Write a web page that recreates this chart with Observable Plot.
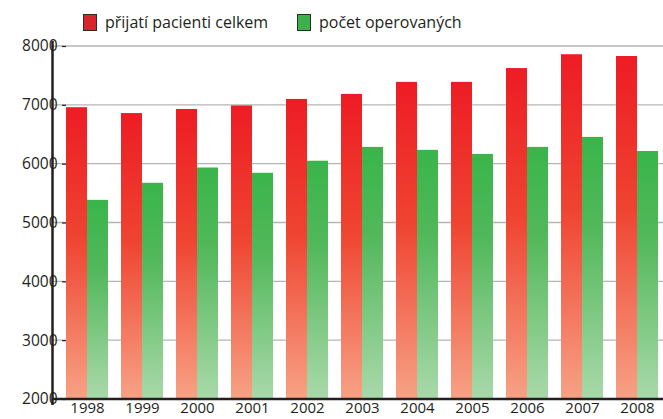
<!DOCTYPE html>
<html><head><meta charset="utf-8">
<script src="https://cdn.jsdelivr.net/npm/d3@7"></script>
<script src="https://cdn.jsdelivr.net/npm/@observablehq/plot@0.6"></script>
<style>
body{margin:0;background:#fff;}
#wrap{position:relative;width:663px;height:419px;font-family:"Open Sans",sans-serif;color:#231f20;overflow:hidden;}
.item{position:absolute;top:0;height:44px;display:flex;align-items:center;font-size:16px;white-space:nowrap;}
.sw{width:12px;height:15px;border:1.5px solid #2b2b2b;margin-right:8px;box-sizing:content-box;}
</style></head>
<body>
<svg width="0" height="0" style="position:absolute"><defs>
<linearGradient id="gr" x1="0" y1="0" x2="0" y2="1"><stop offset="0" stop-color="#ed1c24"/><stop offset="0.45" stop-color="#ef4431"/><stop offset="1" stop-color="#f7a285"/></linearGradient>
<linearGradient id="gg" x1="0" y1="0" x2="0" y2="1"><stop offset="0" stop-color="#39b54a"/><stop offset="0.35" stop-color="#52b85a"/><stop offset="1" stop-color="#a9d9aa"/></linearGradient>
</defs></svg>
<div id="wrap">
  <div id="chart"></div>
  <div class="item" style="left:83px"><div class="sw" style="background:#da242b"></div><span id="l0"></span></div>
  <div class="item" style="left:297px"><div class="sw" style="background:#3cb04a"></div><span id="l1"></span></div>
</div>
<script>
const years = ["1998","1999","2000","2001","2002","2003","2004","2005","2006","2007","2008"];
const admitted = [6960, 6860, 6930, 6990, 7100, 7185, 7390, 7390, 7625, 7860, 7830];
const operated = [5385, 5675, 5935, 5845, 6050, 6285, 6235, 6165, 6285, 6455, 6215];
const seriesNames = ["přijatí pacienti celkem", "počet operovaných"];
const yTicks = [2000, 3000, 4000, 5000, 6000, 7000, 8000];

document.getElementById("l0").textContent = seriesNames[0];
document.getElementById("l1").textContent = seriesNames[1];

const data = years.flatMap((yr, i) => [
  {year: yr, series: seriesNames[0], value: admitted[i]},
  {year: yr, series: seriesNames[1], value: operated[i]}
]);
const base = yTicks[0];

const chart = Plot.plot({
  width: 663, height: 419,
  marginTop: 46, marginBottom: 20, marginLeft: 53, marginRight: 0,
  style: {fontFamily: '"Open Sans", sans-serif', fontSize: "15px", color: "#231f20", background: "transparent"},
  fx: {domain: years, paddingInner: 0.24, paddingOuter: 0.127, align: 0.71, label: null},
  x: {domain: seriesNames, padding: 0, axis: null},
  y: {domain: [base, yTicks[yTicks.length - 1]], axis: null},
  color: {domain: seriesNames, range: ["url(#gr)", "url(#gg)"]},
  marks: [
    Plot.barY(data, {fx: "year", x: "series", y1: base, y2: "value", fill: "series", inset: 0}),
    Plot.axisFx({anchor: "bottom", tickSize: 0, tickPadding: 3, label: null, fontSize: 15}),
    Plot.axisY({ticks: yTicks, tickSize: 4, tickPadding: 5, label: null, tickFormat: d => String(d), fontSize: 15.5, strokeWidth: 1.2})
  ]
});
document.getElementById("chart").appendChild(chart);

// gridlines and axis lines drawn from the plot's own y scale
const y = chart.scale("y");
const svg = d3.select(chart);
const W = 663, L = 53;
const g = svg.insert("g", ":first-child");
g.selectAll("line").data(yTicks.slice(1)).join("line")
  .attr("x1", L).attr("x2", W)
  .attr("y1", d => y.apply(d)).attr("y2", d => y.apply(d))
  .attr("stroke", "#b5b5b5").attr("stroke-width", 1.3);
svg.append("line").attr("x1", L - 0.5).attr("x2", L - 0.5)
  .attr("y1", y.apply(yTicks[yTicks.length - 1]) - 5).attr("y2", y.apply(base) + 6)
  .attr("stroke", "#231f20").attr("stroke-width", 2.5);
svg.append("line").attr("x1", L - 0.5).attr("x2", W)
  .attr("y1", y.apply(base)).attr("y2", y.apply(base))
  .attr("stroke", "#231f20").attr("stroke-width", 2.5);
</script>
</body></html>
